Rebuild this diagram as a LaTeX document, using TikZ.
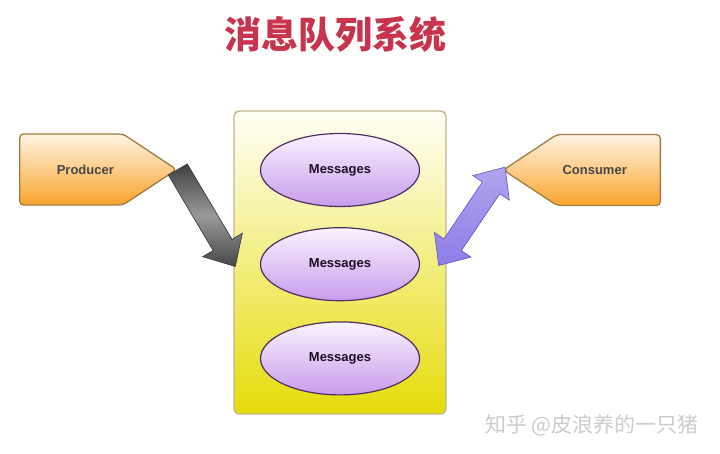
\documentclass[tikz,border=0pt]{standalone}
\usepackage{fontspec}
\setmainfont{Liberation Sans}
\newfontfamily\cjkfont{Noto Sans CJK SC}
\usepackage{tikz}
\usetikzlibrary{arrows.meta,positioning,calc,shapes.geometric,shapes.symbols}
\definecolor{titlered}{HTML}{C8334D}
\definecolor{actoredge}{HTML}{A27B3E}
\definecolor{actortop}{HTML}{FFF4E4}
\definecolor{actorbot}{HTML}{F9A42C}
\definecolor{queueedge}{HTML}{C4B68C}
\definecolor{queuebot}{HTML}{E6DC0A}
\definecolor{msgedge}{HTML}{4F2C63}
\definecolor{msgtop}{HTML}{FAF3FF}
\definecolor{msgbot}{HTML}{C79CEB}
\definecolor{purplefill}{HTML}{8E7DE6}
\definecolor{purpleedge}{HTML}{6252C0}
\tikzset{
  actorbox/.style={
    signal,
    signal pointer angle=67,
    draw=actoredge,
    line width=1.3pt,
    rounded corners=4pt,
    top color=actortop,
    bottom color=actorbot,
    minimum width=157pt,
    minimum height=71pt,
    inner sep=0pt
  },
  actortext/.style={
    font=\fontsize{13}{15}\selectfont\bfseries,
    text=black!72
  },
  queuebox/.style={
    draw=queueedge,
    line width=1.4pt,
    rounded corners=5pt,
    top color=yellow!3!white,
    middle color=yellow!35!white,
    bottom color=queuebot,
    minimum width=212pt,
    minimum height=303pt,
    inner sep=0pt
  },
  msgbox/.style={
    ellipse,
    draw=msgedge,
    line width=1.2pt,
    top color=msgtop,
    bottom color=msgbot,
    minimum width=159pt,
    minimum height=73pt,
    inner sep=0pt,
    font=\fontsize{13}{15}\selectfont\bfseries,
    text=black!65!msgedge
  },
  grayarrow/.style={
    draw=black!80,
    line width=0.6pt,
    top color=black!75,
    bottom color=black!72,
    middle color=black!40
  },
  purplearrow/.style={
    draw=purpleedge,
    line width=0.6pt,
    top color=purplefill!70!white,
    bottom color=purplefill
  }
}

\begin{document}
\begin{tikzpicture}[x=1pt, y=-1pt, node distance=20pt]
  \useasboundingbox[fill=white] (0,0) rectangle (720,454);
  \node[font=\cjkfont\bfseries\fontsize{37}{40}\selectfont, text=titlered] (title) at (335,34) {消息队列系统};
  \node[queuebox] (queue) at (340,262.5) {};
  \node[msgbox] (msg1) at (340,170) {Messages};
  \node[msgbox, below=of msg1] (msg2) {Messages};
  \node[msgbox, below=of msg2] (msg3) {Messages};
  \node[actorbox, signal to=east, anchor=west, label={[actortext, xshift=14pt]center:Producer}] (producer) at (19,169.5) {};
  \node[actorbox, signal to=west, anchor=east, label={[actortext, xshift=-14pt]center:Consumer}] (consumer) at (661,170) {};
  \node[font=\cjkfont\fontsize{21}{23}\selectfont, text=black!20] (mark) at (592,425) {知乎 @皮浪养的一只猪};
  \coordinate (grayin) at ($(queue.west)+(2,4)$);
  \coordinate (purpleout) at ($(queue.east)+(-8,3)$);
  \coordinate (purplein) at ($(consumer.west)+(3,-3)$);
  % fat arrows
  \path[grayarrow] let \p1=($(grayin)-(producer.east)$), \n1={atan2(\y1,\x1)}, \n2={veclen(\x1,\y1)} in
    {[shift={(producer.east)}, rotate=\n1]
    (0pt,11pt) -- (\n2-25pt,11pt) -- (\n2-25pt,23pt) -- (\n2,0pt) -- (\n2-25pt,-23pt)
    -- (\n2-25pt,-11pt) -- (0pt,-11pt) -- cycle};
  \path[purplearrow] let \p1=($(purplein)-(purpleout)$), \n1={atan2(\y1,\x1)}, \n2={veclen(\x1,\y1)} in
    {[shift={(purpleout)}, rotate=\n1]
    (0pt,0pt) -- (25pt,22pt) -- (25pt,10.5pt) -- (\n2-25pt,10.5pt) -- (\n2-25pt,22pt) -- (\n2,0pt)
    -- (\n2-25pt,-22pt) -- (\n2-25pt,-10.5pt) -- (25pt,-10.5pt) -- (25pt,-22pt) -- cycle};
\end{tikzpicture}
\end{document}
